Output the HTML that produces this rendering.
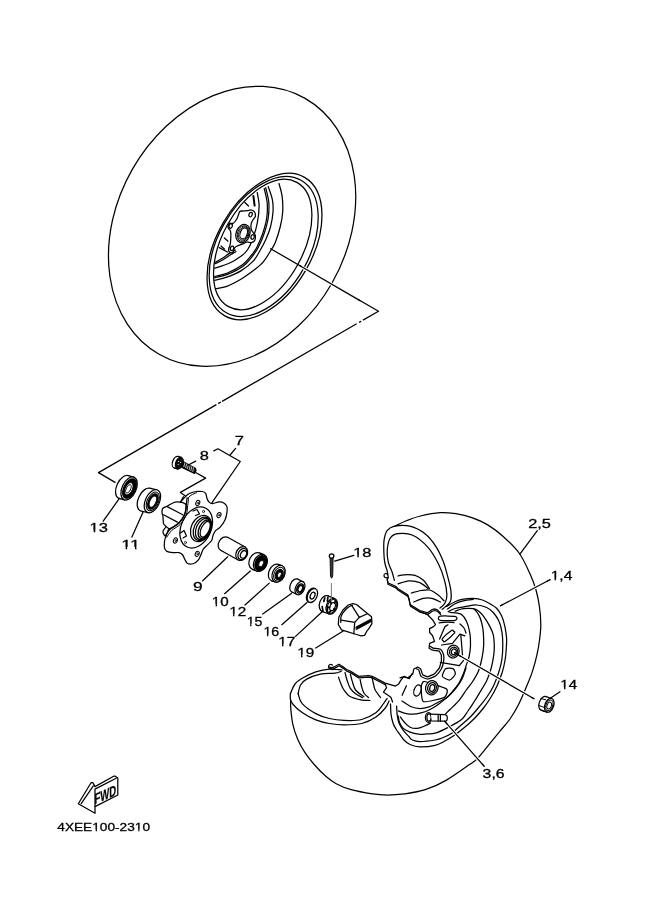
<!DOCTYPE html>
<html><head><meta charset="utf-8">
<style>
html,body{margin:0;padding:0;background:#fff;}
body{width:661px;height:913px;overflow:hidden;}
svg{display:block;}
text{font-family:"Liberation Sans",sans-serif;fill:#000;}
</style></head><body>
<svg width="661" height="913" viewBox="0 0 661 913" style="filter:grayscale(1)">
<rect width="661" height="913" fill="#fff"/>
<g font-size="12.3" stroke="#000" stroke-width="0.3"><text x="234.75" y="445.4" textLength="9.18" lengthAdjust="spacingAndGlyphs">7</text>
<text x="199.89" y="459.7" textLength="9.13" lengthAdjust="spacingAndGlyphs">8</text>
<text x="89.61" y="532.4" textLength="18.42" lengthAdjust="spacingAndGlyphs">13</text>
<text x="121.38" y="548.7" textLength="18.77" lengthAdjust="spacingAndGlyphs">11</text>
<text x="193.09" y="591.4" textLength="9.63" lengthAdjust="spacingAndGlyphs">9</text>
<text x="211.84" y="605.8" textLength="16.85" lengthAdjust="spacingAndGlyphs">10</text>
<text x="229.24" y="615.6" textLength="16.93" lengthAdjust="spacingAndGlyphs">12</text>
<text x="246.65" y="625.6" textLength="15.64" lengthAdjust="spacingAndGlyphs">15</text>
<text x="263.43" y="636.4" textLength="15.79" lengthAdjust="spacingAndGlyphs">16</text>
<text x="278.23" y="645.9" textLength="17.04" lengthAdjust="spacingAndGlyphs">17</text>
<text x="297.23" y="656.5" textLength="16.99" lengthAdjust="spacingAndGlyphs">19</text>
<text x="353.23" y="557.0" textLength="18.18" lengthAdjust="spacingAndGlyphs">18</text>
<text x="528.18" y="528.4" textLength="22.71" lengthAdjust="spacingAndGlyphs">2,5</text>
<text x="550.7" y="580.4" textLength="21.65" lengthAdjust="spacingAndGlyphs">1,4</text>
<text x="560.37" y="689.4" textLength="16.57" lengthAdjust="spacingAndGlyphs">14</text>
<text x="482.6" y="778.0" textLength="22.0" lengthAdjust="spacingAndGlyphs">3,6</text>
<text x="57.29" y="831.2" font-size="11.6" textLength="92.75" lengthAdjust="spacingAndGlyphs">4XEE100-2310</text>
<text x="0" y="0" font-size="15" font-weight="bold" textLength="21.8" lengthAdjust="spacingAndGlyphs" stroke-width="0.2" transform="translate(94.4 804.6) skewY(-24)">FWD</text></g>
<g fill="#fff"><rect x="89.53" y="530.58" width="4.19" height="3.22"/><rect x="95.29" y="530.58" width="3.49" height="3.22"/><rect x="121.30" y="546.88" width="4.27" height="3.22"/><rect x="127.17" y="546.88" width="3.56" height="3.22"/><rect x="130.68" y="546.88" width="4.27" height="3.22"/><rect x="136.56" y="546.88" width="3.56" height="3.22"/><rect x="211.77" y="603.98" width="3.83" height="3.22"/><rect x="217.04" y="603.98" width="3.20" height="3.22"/><rect x="229.17" y="613.78" width="3.85" height="3.22"/><rect x="234.46" y="613.78" width="3.21" height="3.22"/><rect x="246.58" y="623.78" width="3.56" height="3.22"/><rect x="251.48" y="623.78" width="2.97" height="3.22"/><rect x="263.36" y="634.58" width="3.59" height="3.22"/><rect x="268.30" y="634.58" width="2.99" height="3.22"/><rect x="278.16" y="644.08" width="3.87" height="3.22"/><rect x="283.49" y="644.08" width="3.23" height="3.22"/><rect x="297.16" y="654.68" width="3.86" height="3.22"/><rect x="302.47" y="654.68" width="3.22" height="3.22"/><rect x="353.15" y="555.18" width="4.13" height="3.22"/><rect x="358.84" y="555.18" width="3.45" height="3.22"/><rect x="550.62" y="578.58" width="3.94" height="3.22"/><rect x="556.05" y="578.58" width="3.29" height="3.22"/><rect x="560.30" y="687.58" width="3.77" height="3.22"/><rect x="565.48" y="687.58" width="3.14" height="3.22"/><rect x="92.19" y="829.43" width="3.46" height="3.17"/><rect x="96.95" y="829.43" width="2.88" height="3.17"/><rect x="134.76" y="829.43" width="3.46" height="3.17"/><rect x="139.52" y="829.43" width="2.88" height="3.17"/></g>
<g fill="none" stroke="#000" stroke-width="1.25" stroke-linejoin="round" stroke-linecap="round">
<g id="toptire">
<ellipse cx="232.1" cy="226.3" rx="114.9" ry="147.3" transform="rotate(29.7 232.1 226.3)" fill="#fff"/>
<ellipse cx="264.5" cy="246.5" rx="47.6" ry="79.9" transform="rotate(30.1 264.5 246.5)"/>
<ellipse cx="263.7" cy="246.5" rx="45.6" ry="76" transform="rotate(29.4 263.7 246.5)"/>
<ellipse cx="262.7" cy="244.5" rx="40.4" ry="70.9" transform="rotate(28.8 262.7 244.5)"/>
<path d="M279 183.5C279.5 185.6 281.5 191.4 282.1 196.2C282.7 200.9 283 206.9 282.7 212C282.4 217.1 281.5 221.5 280.3 226.5C279.1 231.5 277 238.1 275.4 242.2C273.8 246.3 272.6 247.7 270.5 251C268.4 254.3 266 258.8 263.1 262.1C260.2 265.4 257 267.8 253.4 270.6C249.8 273.4 245.7 276.4 241.3 279C236.9 281.6 231 284.7 226.8 286.3C222.6 287.9 217.7 288.3 215.9 288.7"/>
<path d="M268.2 186.5C268.9 188.7 271.6 195.6 272.4 199.8C273.2 204.1 273.3 207.6 273 212C272.7 216.4 271.8 221.9 270.6 226.5C269.4 231.1 267.6 235.6 265.7 239.8C263.8 244 261.6 248 259.5 251.5C257.4 255 256.4 257.7 253.4 260.9C250.4 264.1 245.7 267.9 241.3 270.6C236.9 273.3 231.2 275.6 226.8 277.2C222.4 278.8 216.7 279.8 214.7 280.3"/>
<path d="M265.7 187.7C266.2 190.1 268.4 197.2 268.8 202.3C269.2 207.4 268.9 213 268.2 218C267.5 223 266.1 227.7 264.5 232.5C262.9 237.3 260.4 243.3 258.5 247C256.6 250.7 255.9 251.7 253.4 254.8C250.9 257.9 247.9 262.5 243.7 265.7C239.5 268.9 232.8 272.2 228 274.2C223.2 276.2 216.9 277.2 214.7 277.8"/>
<path d="M264.2 188.5C264.7 190.9 266.8 197.9 267.2 202.8C267.6 207.8 267.4 213.2 266.7 218.2C266 223.2 264.6 227.8 263 232.6C261.4 237.4 258.8 243.3 257 247C255.2 250.7 254.4 251.5 252 254.5C249.6 257.5 246.6 261.7 242.5 264.8C238.4 267.9 232.1 271.1 227.5 273C222.9 274.9 216.8 275.8 214.7 276.4"/>
<path d="M257.3 192.6C257.6 194.8 259.1 200.9 259.1 205.9C259.1 210.9 258.4 217.2 257.3 222.8C256.2 228.5 254.1 235.3 252.4 239.8C250.8 244.3 249.2 247.3 247.4 250C245.6 252.7 244.3 253.8 241.3 256C238.3 258.2 233.6 261.3 229.2 263.3C224.8 265.3 217.1 267.4 214.7 268.2"/>
<path d="M235.3 250C234.4 250.5 231.8 251.7 229.6 253.1C227.4 254.5 224.5 256.9 222 258.5C219.5 260.1 216 261.8 214.8 262.5"/>
<path d="M236 251.5C235.1 252.1 232.7 253.4 230.5 254.8C228.3 256.2 225.6 258.3 223 259.8C220.4 261.3 216.3 263.1 215 263.8"/>
<path d="M244.9 202.5 L248.5 206"/>
<path d="M241.5 210.8 L245 213.6"/>
<path d="M224.4 238 L228 241.2"/>
<path d="M221 246 L224.6 249.2"/>
<path d="M219.2 247.6 L227.4 252"/>
<path d="M253.4 196 L254.6 205.6" stroke-width="2"/>
<path d="M240 211.3C241.2 210.8 245.8 210.8 247.3 210.6C248.8 210.4 250.3 209.8 251.3 210C252.3 210.2 254.1 211.1 254.6 212C255.1 212.9 255.5 215.6 255.3 216.6C255.1 217.6 253.8 218.4 253.3 219.3C252.8 220.2 251.6 222 251.3 223.3C251 224.6 251 228.1 251.3 229.3C251.6 230.5 252.8 231.8 253.3 232.6C253.8 233.4 255.1 234.2 255.3 235.3C255.5 236.4 255.1 239.6 254.6 240.6C254.1 241.6 252.3 242.4 251.3 242.6C250.3 242.8 248.3 241.9 247.3 242C246.3 242.1 244.9 243 244 243.3C243.1 243.6 241.5 244.2 240.6 244.6C239.7 245 238.1 245.5 237.3 246C236.5 246.5 235.2 247.1 234.6 248C234 248.9 233.3 252.1 232.6 252.6C231.9 253.1 229.8 252.5 229.3 252C228.8 251.5 228.6 249.5 228.7 248.6C228.8 247.7 229.7 246.4 230 245.3C230.3 244.2 230.6 241.8 230.7 240C230.8 238.2 230.9 233.4 230.7 232C230.5 230.6 229.7 229.9 229.3 229.3C228.9 228.7 228 228.1 228 227.3C228 226.5 228.6 223.8 229.3 223.3C230 222.8 232.3 223.8 233.3 223.3C234.3 222.8 235.9 220.5 236.6 219.3C237.3 218.1 238.1 215.7 238.6 214.6C239.1 213.5 238.8 211.8 240 211.3Z" fill="#fff"/>
<ellipse cx="250.6" cy="214.6" rx="1.6" ry="2.3" transform="rotate(20 250.6 214.6)"/>
<ellipse cx="230.7" cy="226" rx="1.6" ry="2.3" transform="rotate(20 230.7 226)"/>
<ellipse cx="232" cy="248.3" rx="1.6" ry="2.3" transform="rotate(20 232 248.3)"/>
<ellipse cx="252.6" cy="237" rx="1.6" ry="2.3" transform="rotate(20 252.6 237)"/>
<ellipse cx="243" cy="233.6" rx="6.9" ry="9.4" transform="rotate(20 243 233.6)" fill="#fff"/>
<ellipse cx="243.2" cy="233.6" rx="5.6" ry="8.1" transform="rotate(20 243.2 233.6)" stroke-width="0.9"/>
<ellipse cx="243.4" cy="233.5" rx="4.6" ry="7" transform="rotate(20 243.4 233.5)" stroke-width="0.8"/>
<ellipse cx="243.7" cy="233.4" rx="3.5" ry="5.7" transform="rotate(20 243.7 233.4)" fill="#fff" stroke-width="1.2"/>
</g>
<path d="M270.6 248.7 L378.5 311.2"/>
<path d="M378.50 311.20L362.99 320.14M361.20 321.17L359.09 322.39M356.67 323.78L222.12 401.34M220.91 402.04L218.22 403.59M216.40 404.64L98.50 472.60L115.5 482.6" stroke-linecap="butt"/>
<path d="M213.8 450.9 L217.9 448.8 L240.3 461.5 L212 502.6"/>
<path d="M230.1 455 L235.6 448.4"/>
<path d="M182 461 L195.4 468.4 L196 470.5 L194.6 473.4 L181.5 467.2Z" fill="#111"/>
<path d="M184.8 462.9 L183.9 466.7" stroke="#fff" stroke-width="0.7"/>
<path d="M186.6 463.9 L185.7 467.6" stroke="#fff" stroke-width="0.7"/>
<path d="M188.3 464.8 L187.4 468.6" stroke="#fff" stroke-width="0.7"/>
<path d="M190.1 465.8 L189.2 469.6" stroke="#fff" stroke-width="0.7"/>
<path d="M191.8 466.7 L190.9 470.5" stroke="#fff" stroke-width="0.7"/>
<path d="M193.6 467.7 L192.7 471.4" stroke="#fff" stroke-width="0.7"/>
<ellipse cx="176.2" cy="462.2" rx="3.6" ry="6.1" transform="rotate(20 176.2 462.2)" fill="#fff"/>
<path d="M178.2 456.4L181.3 457.4L177.3 469L174.2 468Z" fill="#fff" stroke="none"/>
<path d="M178.2 456.4L181.3 457.4M174.2 468L177.3 469"/>
<ellipse cx="179.3" cy="463.2" rx="3.6" ry="6.1" transform="rotate(20 179.3 463.2)" fill="#fff"/>
<ellipse cx="179.4" cy="463.2" rx="3.1" ry="5.3" transform="rotate(20 179.4 463.2)" fill="#111"/>
<ellipse cx="178.6" cy="461.5" rx="0.6" ry="0.6" fill="#fff" stroke="none"/>
<ellipse cx="178.2" cy="464.5" rx="0.6" ry="0.6" fill="#fff" stroke="none"/>
<ellipse cx="180.6" cy="462.5" rx="0.6" ry="0.6" fill="#fff" stroke="none"/>
<path d="M187.9 465.2 L195.7 461.1"/>
<path d="M196.1 472.7 L205.6 478.1 L180.4 492.4 L185.2 495.8"/>
<ellipse cx="123.7" cy="487" rx="7" ry="12.3" transform="rotate(25 123.7 487)" fill="#fff"/>
<path d="M128.3 475.6L133.7 477.1L124.5 499.9L119.1 498.4Z" fill="#fff" stroke="none"/>
<path d="M128.3 475.6L133.7 477.1M119.1 498.4L124.5 499.9"/>
<ellipse cx="129.1" cy="488.5" rx="7" ry="12.3" transform="rotate(25 129.1 488.5)" fill="#fff"/>
<ellipse cx="129.5" cy="488.6" rx="5.8" ry="10.4" transform="rotate(25 129.5 488.6)" fill="#000"/>
<ellipse cx="128.8" cy="488.8" rx="3.6" ry="6.6" transform="rotate(25 128.8 488.8)" fill="#fff" stroke-width="0.9"/>
<ellipse cx="128.4" cy="488.9" rx="2.2" ry="4.6" transform="rotate(25 128.4 488.9)" stroke-width="0.8"/>
<path d="M103.2 521.2 L119.2 498.7"/>
<ellipse cx="145.4" cy="499.6" rx="7" ry="12.3" transform="rotate(25 145.4 499.6)" fill="#fff"/>
<path d="M149.8 488.2L156.8 489.8L148 512.6L141 511Z" fill="#fff" stroke="none"/>
<path d="M149.8 488.2L156.8 489.8M141 511L148 512.6"/>
<ellipse cx="152.4" cy="501.2" rx="7" ry="12.3" transform="rotate(25 152.4 501.2)" fill="#fff"/>
<ellipse cx="152.8" cy="501.4" rx="5.6" ry="10" transform="rotate(25 152.8 501.4)" stroke-width="1"/>
<ellipse cx="152.9" cy="501.5" rx="4.4" ry="8.2" transform="rotate(25 152.9 501.5)" fill="#000"/>
<ellipse cx="152.9" cy="501.6" rx="3" ry="6" transform="rotate(25 152.9 501.6)" fill="#fff" stroke-width="0.9"/>
<path d="M131.9 537.1 L143.3 511.6"/>
<path d="M186.3 495.7C187.5 494.6 188.8 493.8 189.9 493.3C191 492.8 194.6 491.7 196 491.5C197.4 491.3 200.9 491.3 202 491.5C203.1 491.7 205.1 492.5 205.7 493.3C206.3 494.1 206.5 497.1 206.9 498.2C207.3 499.3 208.6 501.8 209.3 502.4C210 503 211.8 503.7 212.9 503.6C214 503.5 217.7 501.9 219 501.8C220.3 501.7 222.9 502.4 223.8 503C224.7 503.6 226.5 505.5 226.9 506.6C227.3 507.7 227.1 511.1 226.9 512.7C226.7 514.3 225.8 518.2 225 519.9C224.2 521.6 221.3 525.9 220.2 527.2C219.1 528.5 216.3 529.8 215.4 530.8C214.5 531.8 213.3 534.6 212.9 535.7C212.5 536.8 212.4 539.4 211.7 540.5C211 541.6 207.9 544.4 206.9 545.4C205.9 546.4 204 547.9 203.3 549C202.6 550.1 201.4 553.7 200.8 555C200.2 556.3 199.2 558.9 198.4 559.9C197.6 560.9 194.9 563.1 193.6 563.5C192.3 563.9 188.5 563.9 187.5 563.5C186.5 563.1 185.7 560.9 185.1 559.9C184.5 558.9 183.4 555.9 182.7 555C182 554.1 180.1 552.9 179 552.6C177.9 552.3 174.4 552.7 173 552.6C171.6 552.5 167.9 552 166.9 551.4C165.9 550.8 164.8 548.9 164.5 547.8C164.2 546.7 164.4 543 164.5 541.7C164.6 540.4 165.3 538 165.7 536.9C166 535.8 166.8 533.7 167.5 532C168.2 530.3 171 524.3 172 522C173 519.7 175.1 514.2 176 512C176.9 509.8 178.8 504.9 180 503C181.2 501.1 185.1 496.8 186.3 495.7Z" fill="#fff"/>
<path d="M186.2 505C186 503.5 183.8 503.2 183 502.8C182.2 502.4 181.5 502.2 180.4 502.1C179.3 502 176.4 501.8 175 502.1C173.6 502.4 171.2 503.9 170.1 504.5C169 505.1 168.1 505.8 167.1 506.3C166.1 506.8 163.6 507.5 162.9 508.2C162.2 508.9 162.1 510.4 162 511.2C161.9 512 162.2 513.6 162.3 514.2C162.4 514.8 162.7 514.8 162.9 516C163.1 517.2 163.1 521.9 163.5 523.3C163.9 524.7 165.1 525.6 165.9 526.3C166.7 527 168.4 528.7 169.5 528.7C170.6 528.7 172.7 527.4 174 526.6C175.3 525.8 177.8 524.4 179.2 522.7C180.6 521 183.8 516.6 184.7 514.2C185.6 511.8 186.4 506.5 186.2 505Z" fill="#fff"/>
<path d="M165.3 536C166.1 534.9 167.8 531.5 170.1 529.3C172.4 527.1 176.8 525.2 179.2 522.7C181.6 520.2 183.5 517.2 184.7 514.2C185.9 511.3 185.8 507.7 186.2 505C186.6 502.3 186.9 499.1 187.1 497.9"/>
<path d="M166.8 537.2C167.6 536.1 169.3 532.8 171.6 530.6C173.9 528.4 178.3 526.5 180.7 523.9C183.1 521.3 185 518 186.2 515C187.4 511.9 187.3 508.3 187.7 505.6C188.1 502.9 188.4 499.8 188.6 498.6" stroke-width="1"/>
<path d="M180.4 502.1 L183.4 496.7"/>
<path d="M187.6 498.6C188.2 498 189.5 496.2 191 495.2C192.5 494.2 195.6 493.2 196.5 492.8" stroke-width="1"/>
<path d="M167.1 506.6 L182.8 514.8"/>
<path d="M163.5 514.8 L177.4 522.1"/>
<path d="M166 527C165.5 527.7 163.3 529.8 163 531.1C162.7 532.4 163.6 534 164.1 534.8C164.6 535.6 165.6 535.8 165.9 536"/>
<ellipse cx="196.2" cy="527.5" rx="15" ry="21.5" transform="rotate(25 196.2 527.5)"/>
<path d="M193 511 L197 509.5 L199.5 514 L195.5 515.5"/>
<path d="M180.5 533 L184 530.5 L186.5 536 L183 538"/>
<ellipse cx="201" cy="528.5" rx="9.8" ry="13.8" transform="rotate(25 201 528.5)" fill="#fff"/>
<ellipse cx="202.3" cy="528.8" rx="8.2" ry="12.4" transform="rotate(25 202.3 528.8)"/>
<ellipse cx="203.3" cy="529" rx="7" ry="11.2" transform="rotate(25 203.3 529)"/>
<ellipse cx="204.5" cy="529.2" rx="5.4" ry="9.8" transform="rotate(25 204.5 529.2)" stroke-width="1.4"/>
<ellipse cx="205.2" cy="529.3" rx="4" ry="8.4" transform="rotate(25 205.2 529.3)"/>
<ellipse cx="197.8" cy="503" rx="1.9" ry="2.7" transform="rotate(25 197.8 503)" stroke-width="1"/>
<ellipse cx="198.1" cy="503" rx="0.7" ry="1.1" transform="rotate(25 198.1 503)" stroke-width="0.7"/>
<ellipse cx="219" cy="515.1" rx="1.9" ry="2.7" transform="rotate(25 219 515.1)" stroke-width="1"/>
<ellipse cx="219.3" cy="515.1" rx="0.7" ry="1.1" transform="rotate(25 219.3 515.1)" stroke-width="0.7"/>
<ellipse cx="175.4" cy="540.5" rx="1.9" ry="2.7" transform="rotate(25 175.4 540.5)" stroke-width="1"/>
<ellipse cx="175.7" cy="540.5" rx="0.7" ry="1.1" transform="rotate(25 175.7 540.5)" stroke-width="0.7"/>
<ellipse cx="197.2" cy="553.8" rx="1.9" ry="2.7" transform="rotate(25 197.2 553.8)" stroke-width="1"/>
<ellipse cx="197.5" cy="553.8" rx="0.7" ry="1.1" transform="rotate(25 197.5 553.8)" stroke-width="0.7"/>
<ellipse cx="203.5" cy="511.5" rx="1" ry="1.2" stroke-width="0.8"/>
<ellipse cx="185.5" cy="542.5" rx="1" ry="1.2" stroke-width="0.8"/>
<ellipse cx="224.1" cy="543.8" rx="5.5" ry="7.3" transform="rotate(28 224.1 543.8)" fill="#fff"/>
<path d="M227.6 537.3L245.2 547L238.2 560L220.6 550.3Z" fill="#fff" stroke="none"/>
<path d="M227.6 537.3L245.2 547M220.6 550.3L238.2 560"/>
<ellipse cx="241.7" cy="553.5" rx="5.5" ry="7.3" transform="rotate(28 241.7 553.5)" fill="#fff"/>
<ellipse cx="242.6" cy="554" rx="4.3" ry="6" transform="rotate(28 242.6 554)"/>
<ellipse cx="243.5" cy="554.4" rx="2.8" ry="4" transform="rotate(28 243.5 554.4)"/>
<path d="M202.7 580.8 L227.7 556.8"/>
<ellipse cx="255.9" cy="561.1" rx="6.5" ry="8.9" transform="rotate(25 255.9 561.1)" fill="#fff"/>
<path d="M259.4 552.9L263.9 554.7L256.9 571.1L252.4 569.3Z" fill="#fff" stroke="none"/>
<path d="M259.4 552.9L263.9 554.7M252.4 569.3L256.9 571.1"/>
<ellipse cx="260.4" cy="562.9" rx="6.5" ry="8.9" transform="rotate(25 260.4 562.9)" fill="#fff"/>
<ellipse cx="260.8" cy="563.1" rx="5.4" ry="7.7" transform="rotate(25 260.8 563.1)" fill="#000"/>
<ellipse cx="261.2" cy="563.6" rx="2.2" ry="3.3" transform="rotate(25 261.2 563.6)" fill="#fff" stroke-width="0.8"/>
<path d="M224.6 593.7 L250.3 571"/>
<ellipse cx="275" cy="572.6" rx="6.1" ry="8.9" transform="rotate(25 275 572.6)" fill="#fff"/>
<path d="M278.3 564.4L281.9 565.6L275.3 582L271.7 580.8Z" fill="#fff" stroke="none"/>
<path d="M278.3 564.4L281.9 565.6M271.7 580.8L275.3 582"/>
<ellipse cx="278.6" cy="573.8" rx="6.1" ry="8.9" transform="rotate(25 278.6 573.8)" fill="#fff"/>
<ellipse cx="279" cy="574.2" rx="4.9" ry="7.3" transform="rotate(25 279 574.2)" stroke-width="1"/>
<ellipse cx="279.2" cy="574.6" rx="3.6" ry="5.4" transform="rotate(25 279.2 574.6)" fill="#000"/>
<ellipse cx="279.4" cy="574.8" rx="1.8" ry="2.8" transform="rotate(25 279.4 574.8)" fill="#fff" stroke-width="0.8"/>
<path d="M245 605 L269.3 583.1"/>
<ellipse cx="294.7" cy="585.5" rx="4.4" ry="7.1" transform="rotate(25 294.7 585.5)" fill="#fff"/>
<path d="M297.7 579.1L303 581.7L297 594.5L291.7 591.9Z" fill="#fff" stroke="none"/>
<path d="M297.7 579.1L303 581.7M291.7 591.9L297 594.5"/>
<ellipse cx="300" cy="588.1" rx="4.4" ry="7.1" transform="rotate(25 300 588.1)" fill="#fff"/>
<ellipse cx="300.2" cy="588.5" rx="3.2" ry="4.9" transform="rotate(25 300.2 588.5)" stroke-width="1.3"/>
<ellipse cx="300.3" cy="588.6" rx="2.2" ry="3.4" transform="rotate(25 300.3 588.6)" stroke-width="1.5"/>
<path d="M262.7 614.1 L291.4 593.6"/>
<ellipse cx="311.6" cy="595.2" rx="4.6" ry="7.4" transform="rotate(25 311.6 595.2)" fill="#fff"/>
<ellipse cx="312.4" cy="595.5" rx="4.6" ry="7.4" transform="rotate(25 312.4 595.5)" fill="#fff"/>
<ellipse cx="312.6" cy="595.6" rx="2.2" ry="3.6" transform="rotate(25 312.6 595.6)"/>
<path d="M281.8 624.7 L307 602.5"/>
<ellipse cx="325" cy="603.6" rx="5.4" ry="8.2" transform="rotate(20 325 603.6)" fill="#fff"/>
<path d="M327.9 595.9L334.7 598.6L328.9 614L322.1 611.3Z" fill="#fff" stroke="none"/>
<path d="M327.9 595.9L334.7 598.6M322.1 611.3L328.9 614"/>
<ellipse cx="331.8" cy="606.3" rx="5.4" ry="8.2" transform="rotate(20 331.8 606.3)" fill="#fff"/>
<ellipse cx="332" cy="606.4" rx="4.4" ry="7.1" transform="rotate(20 332 606.4)" stroke-width="1.1"/>
<ellipse cx="332.6" cy="606.7" rx="2.5" ry="4.3" transform="rotate(20 332.6 606.7)" stroke-width="1.1"/>
<path d="M334.1 608.8 L335.1 610.1" stroke-width="1.8"/>
<path d="M330.6 610.6 L329.4 612.9" stroke-width="1.8"/>
<path d="M329.5 607.1 L327.5 607.3" stroke-width="1.8"/>
<path d="M331.2 603.5 L330.2 601.5" stroke-width="1.8"/>
<path d="M334.5 603 L335.7 600.8" stroke-width="1.8"/>
<path d="M324.8 597.8 L323.8 601.5 M322.2 606.5 L322.8 610.3 M327.9 597.5 L327.4 601.2 M327 611.6 L327.6 608.2" stroke-width="1.7"/>
<path d="M295.5 636.4 L323 611"/>
<path d="M330.1 558 L330.5 576 L331.6 578.3 L332.7 576 L333.1 558 Z" fill="#3a3a3a" stroke-width="0.9"/>
<ellipse cx="331.6" cy="556" rx="2.3" ry="2.2" fill="#fff"/>
<path d="M331.4 583.4 L331.4 601" stroke="#777" stroke-width="1"/>
<path d="M334.7 561.2 L353.8 555.3"/>
<path d="M341.5 629.9 L338.3 624.5 L338.8 617.2 L342.9 610 L348.3 605 L352.9 603.6 L356.5 604.5 L367.4 613.6 L371.5 616.8 L371.9 623.6 L369.2 628.1 L366.5 631.7 L364.6 635.4 L361 635.8 L356.5 634.5 L344.7 630.8Z" fill="#fff"/>
<path d="M340.8 622.5C340.9 621.4 340.5 618 341.2 616C341.9 614 343.4 612.1 344.8 610.5C346.2 608.9 348.2 607.3 349.5 606.5C350.8 605.7 352 605.8 352.5 605.6"/>
<path d="M352.3 606.3 L359.3 617.4 L367.4 613.8"/>
<path d="M359.3 617.4 L354.7 622.4 L341.2 620.2"/>
<path d="M354.7 622.4 L353.8 633.8"/>
<path d="M356 626.8 L371.6 618.6 L371.8 621.4 L356.4 629.8Z" fill="#000" stroke-width="0.6"/>
<path d="M315.7 648 L343.2 631"/>
<path d="M394.7 526.2C396.8 525.2 402.7 522.2 407 520.5C411.3 518.8 414.9 517.3 420.4 516C425.9 514.7 434.1 513 440 512.6C445.9 512.2 450.6 512.9 455.9 513.7C461.2 514.6 466.5 515.8 471.8 517.7C477.1 519.6 482.4 521.7 487.7 524.9C493 528.1 498.2 532 503.5 536.8C508.8 541.6 514.9 547.1 519.4 553.5C523.9 559.9 527.7 568.8 530.5 574.9C533.3 581 534.5 584.6 536 590C537.5 595.4 538.7 601.2 539.5 607C540.3 612.8 540.8 619.5 540.8 625C540.8 630.5 540.1 635 539.5 640C538.9 645 538.2 649.3 537 654.7C535.8 660.1 533.9 667 532.1 672.4C530.3 677.8 528.5 681.8 526.2 687.2C523.9 692.6 521 699.7 518.3 705C515.6 710.3 513 714.6 510 719C506.9 723.4 503 727.4 500 731.1C497 734.8 495.4 736.7 491.8 741.1C488.2 745.5 481.7 753.9 478.1 757.8C474.5 761.6 475.3 760.5 470 764.2C464.7 767.9 453.9 775.9 446.5 780.1C439.1 784.4 432.4 787.4 425.3 789.7C418.2 792 410.6 793 404.2 793.9C397.8 794.8 392.5 795 387.2 795C381.9 795 378.4 794.8 372.4 793.9C366.4 793 357.2 791.4 351.2 789.7C345.2 788 340.3 785.9 336.2 783.7C332.1 781.6 330 779.9 326.4 776.8C322.8 773.7 318.2 769.1 314.6 765C311 760.9 307.5 756.5 304.7 752.2C301.9 747.9 299.8 744 297.8 739.4C295.8 734.8 294 729.5 292.9 724.6C291.8 719.7 291.3 714 290.9 709.9C290.5 705.8 290.7 701.6 290.6 700"/>
<path d="M388.3 577.8C388.1 576.6 387.7 573.2 387.1 570.6C386.5 568 385.2 565.5 384.7 562.1C384.1 558.7 383.9 553.7 383.8 550C383.7 546.3 383.6 543 384.1 539.8C384.7 536.6 385.3 533 387.1 530.7C388.9 528.4 390.9 527 394.7 526.2C398.5 525.5 404.8 525 409.8 526.2C414.9 527.5 420.7 530.4 425 533.7C429.3 537 432.5 541.2 435.5 545.8C438.5 550.3 441.1 556 443.1 561C445.1 566 446.3 571.3 447.6 576.1C448.9 580.9 450.3 585.9 450.8 590C451.3 594.1 451.5 598.2 450.6 601C449.7 603.8 446.6 605.5 445.2 606.9C443.8 608.3 442.7 608.9 442.2 609.3"/>
<path d="M394.4 580.3C394 578.9 393 574.8 392 571.8C391 568.8 389.1 565.7 388.3 562.1C387.5 558.5 386.9 554.4 387.2 550.4C387.5 546.4 388.4 541.1 390.1 538.3C391.9 535.5 393.9 534.2 397.7 533.7C401.5 533.2 407.8 533 412.8 535.3C417.9 537.6 423.7 542.6 428 547.4C432.3 552.2 435.7 558.5 438.5 564C441.3 569.5 443.2 575.4 444.6 580.6C446 585.8 446.8 591.3 446.9 595C447 598.7 446.1 600.8 445 603C443.9 605.2 440.8 607.2 440 608"/>
<path d="M388 578C387.5 577.9 385.7 578 385 577.5C384.3 577 383.9 575.7 384 575C384.1 574.3 384.9 573.6 385.5 573.5C386.1 573.4 387.2 574.3 387.5 574.5"/>
<path d="M398 576C399 575.8 401.2 574.9 404 574.8C406.8 574.7 411.8 574.5 415 575.4C418.2 576.3 421 578.1 423.4 580.3C425.8 582.5 428.5 587.3 429.5 588.7"/>
<path d="M398 583.9C399.8 583.4 405.3 581.1 408.9 580.9C412.5 580.7 416.6 581.4 419.8 582.7C423 584 426.9 587.7 428.3 588.7"/>
<path d="M411.3 593C412.9 592.6 418 591 421 590.5C424 590 426.7 589.3 429.5 590C432.3 590.7 435.5 593 437.9 594.8C440.3 596.6 443 599.8 444 600.8"/>
<path d="M413.7 602C415.3 601.4 420.4 599 423.4 598.4C426.4 597.8 429.1 597.8 431.9 598.4C434.7 599 439 601.4 440.4 602"/>
<path d="M387.1 577.8 L387.7 582.7 L395.6 586.3 L398 588.7 L407.7 594.8 L408.9 598.4 L410.1 604.5 L419.8 610.5 L427.6 612.8 L431.5 609.9 L434.5 608.9 L437.4 609.9 L440.4 612.9"/>
<path d="M387.4 579.4 L388 584.3 L395.9 587.9 L398.3 590.3 L408 596.4 L409.2 600 L410.4 606.1 L420.1 612.1 L427.9 614.4 L431.8 611.5 L434.8 610.5 L437.7 611.5 L440.7 614.5"/>
<path d="M420.7 611.8 L427.6 614.8 L432.5 619.7 L435.5 624.6 L433.5 626.6 L429.6 628.6 L429.6 632.5 L432.5 635.5 L434.5 641.4 L429.6 643.4 L429.1 648.3 L432.5 650.2 L439.4 651.2 L441.4 655.2 L441.4 661.1 L439.4 668 L434.5 673.9 L427.6 676.8 L422.7 674.9 L420.7 669 L417.7 667 L413.8 669 L412.8 673.9 L407.9 677.8 L403 676.8 L400 677.8"/>
<path d="M430.2 646.4C430.5 646.5 432.1 647.8 433.1 648.1C434.1 648.4 439.4 648.6 440.5 649.3C441.5 650 443.2 653.5 443.6 654.8C443.9 656 443.8 660 443.6 661.4C443.4 662.9 442.1 667.6 441.3 669C440.6 670.5 437.2 674.7 435.8 675.7C434.5 676.7 429.3 678.9 427.8 679C426.3 679.1 421.9 677.2 421.1 676.4C420.2 675.5 419.3 670.9 418.8 670.2C418.4 669.4 416.7 669 416.5 668.8"/>
<path d="M329 666.8 L332.1 668 L338.9 664.2 L342.7 666.5 L346.5 669.5 L350.3 671 L358.6 676.3 L368.4 675.6 L372.2 676.3 L385.1 683.1 L395.6 686.1 L398.7 683.9 L400.9 680.1 L404 676.3 L409.3 678.6 L412.3 673.3"/>
<path d="M329.2 668.4 L332.3 669.6 L339.1 665.8 L342.9 668.1 L346.7 671.1 L350.5 672.6 L358.8 677.9 L368.6 677.2 L372.4 677.9 L385.3 684.7"/>
<path d="M385.1 683.9 L386.6 687.7 L383.5 692.2 L388.1 695.2 L391 697.5 L392.6 702"/>
<path d="M333 667C332.5 667.2 330.8 668.6 330 668.5C329.2 668.4 328.5 667.2 328.5 666.5C328.5 665.8 329.3 664.8 330 664.5C330.7 664.2 332.1 664.9 332.5 665"/>
<path d="M290.4 693.6C291.2 692 293 686.6 295 684C297 681.4 298.7 680.2 302.2 678.2C305.7 676.2 311.3 673.3 315.8 671.8C320.3 670.3 325 669.4 329.4 669.1C333.8 668.8 340 669.9 342.1 670"/>
<path d="M290.4 693.6C290.5 695 289.3 698.6 291.3 701.8C293.3 705 298.1 709.6 302.2 712.6C306.3 715.6 311.3 718.1 315.8 719.9C320.3 721.7 324.7 722.7 329.4 723.5C334.1 724.3 338.6 724.9 344 724.9C349.4 724.9 356.4 724.8 361.7 723.5C367 722.2 372.1 719.6 376 717C379.9 714.4 383.1 710.7 385.3 708C387.5 705.3 388.4 702.2 389 701"/>
<path d="M298.1 693.6C298.5 692.2 299.1 687.4 300.5 685C301.9 682.6 303.4 680.9 306.7 679.1C310 677.3 315.6 675.1 320.3 674.1C325 673.1 331.3 673.7 334.8 673.2C338.3 672.7 340.1 671.6 341.2 671.3"/>
<path d="M298.1 693.6C298.8 695.3 299.2 700.3 302.2 703.6C305.1 706.9 311.3 711.1 315.8 713.6C320.3 716.1 324.7 717.4 329.4 718.5C334.1 719.6 338.6 720.2 344 720.4C349.4 720.6 356.3 720.8 361.7 719.5C367.1 718.2 372.6 715.1 376.2 712.5C379.8 709.9 381.7 705.9 383.5 703.6C385.3 701.3 386.5 699.4 387.1 698.5"/>
<path d="M338.5 677.2C338.9 678.3 340.1 681.9 341 684C341.9 686.1 342.5 687.9 344 690C345.5 692.1 347.2 694.9 350 696.5C352.8 698.1 357.5 699.1 360.8 699.8C364.1 700.5 368.4 700.4 369.9 700.5"/>
<path d="M345 672.5C345.3 673.8 346.1 677.4 347 680C347.9 682.6 348.8 686.1 350.3 688.4C351.8 690.7 354 692.5 356 694C358 695.5 361.3 696.9 362.4 697.5"/>
<path d="M350.3 674C350.7 675.3 351.6 679.3 352.5 682C353.4 684.7 353.7 687.5 355.6 690C357.5 692.5 362.5 695.6 363.9 696.7"/>
<path d="M360.1 679.3C360.3 680.4 360.9 683.7 361.5 686C362.1 688.3 362.8 691.1 363.9 693C365 694.9 367.6 696.8 368.4 697.5"/>
<path d="M372.2 677.8C372.4 678.8 373 682 373.5 684C374 686 374 687.8 375.2 690C376.4 692.2 379.6 696.2 380.5 697.5"/>
<path d="M446.6 606.5C448 605.7 452.2 602.9 455 601.7C457.8 600.5 460.2 599.8 463.3 599.2C466.4 598.6 470.1 598.2 473.3 598.3C476.5 598.4 479.6 599 482.5 600C485.4 601 488.4 602.8 490.8 604.2C493.2 605.6 494.8 606.4 496.6 608.3C498.4 610.2 500.2 612.8 501.6 615.8C503 618.8 504.1 622.9 504.9 626.6C505.7 630.4 506.4 634.7 506.6 638.3C506.8 641.9 506.6 644.4 506.3 648C506.1 651.6 505.8 655.8 505.1 660C504.4 664.2 503.4 668.7 502 673C500.6 677.3 498.9 681.8 497 686C495.1 690.2 492.8 694.3 490.5 698C488.2 701.7 486.1 704.7 483.5 708C480.9 711.3 478 714.8 474.9 718C471.8 721.2 468.5 724.1 465 727C461.5 729.9 457.5 733.1 454 735.5C450.5 737.9 447.1 739.9 444 741.5C440.9 743.1 439.1 744.4 435.1 745.3C431.1 746.2 424.2 746.9 420 746.8C415.8 746.7 412.7 745.6 410 744.5C407.3 743.4 405.5 741.6 403.9 740C402.3 738.4 401.6 736.9 400.3 735.1C399 733.3 397.2 731 396 729C394.8 727 393.8 725.5 393 723C392.2 720.5 391.4 717.2 391 714C390.6 710.8 390.6 705.7 390.5 704"/>
<path d="M447.5 609C448.8 608.1 452.4 605.2 455 603.8C457.6 602.4 460.2 601.5 463.3 600.8C466.4 600.1 471.6 599.7 473.3 599.5"/>
<path d="M448.2 611.8C449.3 611.2 452.2 609.4 455 608.5C457.8 607.6 461.4 607.2 465 606.6C468.6 606 473 604.9 476.6 605C480.2 605.1 483.8 606.2 486.6 607.5C489.4 608.8 491.2 610.1 493.3 612.5C495.4 614.9 497.7 618.3 499.1 621.6C500.6 624.9 501.4 628.5 502 632.4C502.6 636.3 502.8 640.4 502.8 645C502.8 649.6 502.5 655.3 501.8 660C501.1 664.7 499.9 668.7 498.5 673C497.1 677.3 495.4 682 493.5 686C491.6 690 489.3 693.5 486.9 697C484.5 700.5 481.8 703.6 479 707C476.2 710.4 473.2 714.1 470 717.3C466.8 720.5 463 723.4 460 726C457 728.6 454.8 731.2 451.8 733.2C448.8 735.2 444.8 736.9 442 738C439.2 739.1 438.8 739.4 435.1 740C431.4 740.6 423.8 741.5 420 741.5C416.2 741.5 414.3 740.9 412.4 740C410.5 739.1 410.2 737.9 408.7 736.3C407.2 734.7 404.9 732.5 403.3 730.3C401.7 728.1 400 725.5 399 723C398 720.5 397.6 717.9 397.2 715.1C396.8 712.3 396.7 707.6 396.6 706.1"/>
<path d="M455 611.2C456.4 610.8 460.2 609.1 463.3 608.7C466.4 608.3 470.7 608.2 473.3 608.7C475.9 609.2 477.2 610 479.1 611.6C481.1 613.2 483.2 615.8 485 618.3C486.8 620.8 488.5 623.8 489.9 626.6C491.3 629.4 492.6 631.8 493.3 634.9C494 638 494.2 641.7 494.3 645C494.4 648.3 494.3 651 493.8 654.7C493.3 658.4 492.6 662.8 491.5 667C490.4 671.2 488.9 675.8 487 680C485.1 684.2 482.2 688.4 480 692.1C477.8 695.8 476 698.9 474 702C472 705.1 470.1 708.1 468 711C465.9 713.9 464.8 716.8 461.6 719.5C458.4 722.2 453.1 724.8 448.7 727.1C444.3 729.4 438.7 732.1 435.1 733.2C431.5 734.3 429.7 733.7 426.9 733.9C424.1 734.1 421.2 734.5 418.4 734.2C415.6 733.9 412.5 733.1 410 732.1C407.5 731.1 405.1 730 403.3 728.4C401.6 726.8 400.4 724.5 399.5 722.4C398.6 720.3 398.4 717.1 398.2 716"/>
<path d="M474.1 609.1C474.8 609.9 477.1 611.9 478.3 614.1C479.6 616.3 480.8 619.5 481.6 622.5C482.4 625.5 483 628.6 483.3 632.4C483.6 636.1 483.9 640.7 483.7 645C483.5 649.3 482.9 653.7 482 658C481.1 662.3 480 667.2 478.5 671C477 674.8 475 677.8 473 681C471 684.2 468.6 686.8 466.3 690C464 693.2 461.8 697.1 459.1 700.4C456.4 703.6 452.3 707.2 450 709.5C447.7 711.8 446.2 713.2 445.4 714"/>
<path d="M430.5 723C429.5 723.5 426.7 725.1 424.5 726C422.3 726.9 419.6 728.2 417.2 728.4C414.8 728.6 412 728.1 410 727.2C408 726.3 406.7 724.7 405.1 723C403.5 721.3 401.1 717.9 400.3 716.9"/>
<path d="M440.3 616.2C441.9 615.8 445.2 616 447.6 616C450.1 616 453.4 616 455 616.4C456.6 616.8 457 617.6 457 618.3C457 619 456.6 620 455 620.4C453.4 620.8 450.1 620.6 447.6 620.6C445.2 620.6 441.9 620.8 440.3 620.4C438.8 620 438.3 619 438.3 618.3C438.3 617.6 438.8 616.6 440.3 616.2Z"/>
<path d="M439.1 622.9C440.3 622.8 444 622.3 446.5 622.2C449 622.1 452.8 622.5 454.1 622.5"/>
<path d="M442.6 638.4C444 636.7 449.7 631.8 451.5 630.6C453.3 629.4 453.1 630.9 453.6 631.3C454.1 631.7 455.7 631.5 454.3 633.2C452.9 634.9 447.2 640 445.3 641.3C443.4 642.6 443.6 641.3 443.2 640.8C442.8 640.3 441.2 640.1 442.6 638.4Z"/>
<path d="M439.6 639.1 L445 626.6 L448 624.8"/>
<path d="M441.6 645 L452.5 643.3 L459.9 634.1 L464.9 635.8"/>
<path d="M460.8 635 L462.5 655"/>
<path d="M450 612.5C451.8 612.8 458 612.6 460.8 614.1C463.6 615.6 465.1 618.4 466.6 621.6C468.1 624.8 469.2 629.3 469.9 633.3C470.5 637.3 470.6 641.8 470.5 645.8C470.4 649.8 469.7 653.8 469 657C468.3 660.2 467.2 662.2 466.3 665C465.4 667.8 464.6 670.8 463.3 673.9C462 677 460.5 680.8 458.7 683.7C456.9 686.6 454.5 689.2 452.7 691.3C450.9 693.4 450.5 694.2 448.1 696.4C445.7 698.6 441.4 702.2 438.2 704.5C435 706.8 432.1 708.5 429.1 710C426.1 711.5 422.7 712.5 420 713.2C417.3 713.9 415.5 714.2 413 714.2C410.5 714.2 407.5 713.8 405.1 713.3C402.7 712.8 399.5 711.3 398.4 710.9"/>
<path d="M466 668C465.3 669.8 463.7 675.7 462 679C460.3 682.3 458.5 685 456 688C453.5 691 450 695 447.2 697.3C444.4 699.6 442.1 700.2 439.1 701.8C436.1 703.4 432.3 705.7 429.1 706.8C425.9 707.9 423.1 708.6 420 708.6C416.9 708.6 413.6 707.8 410.6 706.5C407.6 705.2 403.4 701.9 402 701"/>
<path d="M460 624C460.7 624.7 463 626.5 464 628C465 629.5 465.7 632.2 466 633"/>
<ellipse cx="453.3" cy="651.6" rx="5.8" ry="6.5" transform="rotate(20 453.3 651.6)" fill="#fff"/>
<ellipse cx="453.6" cy="651.7" rx="4" ry="4.6" transform="rotate(20 453.6 651.7)"/>
<ellipse cx="453.8" cy="651.8" rx="2.4" ry="2.9" transform="rotate(20 453.8 651.8)"/>
<path d="M445.6 668.8C446.8 667.9 451.9 668 453 668.6C454.1 669.2 455.7 672.8 455.3 674.1C454.9 675.4 451.3 679.7 449.8 680C448.3 680.3 442.9 677.7 442.4 676.4C441.9 675.1 444.4 669.7 445.6 668.8Z"/>
<path d="M440.3 662.4 L459.3 665.6 L463.6 660.3"/>
<path d="M424.4 681.5C426.5 681.7 444.9 687.6 446.6 688.9C448.3 690.2 446.4 696.3 444.5 697.4C442.6 698.5 425.2 702.5 423.3 701.6C421.4 700.7 421.1 688.5 421.2 686.8C421.3 685.1 422.3 681.3 424.4 681.5Z"/>
<ellipse cx="431.8" cy="687.8" rx="6.2" ry="7.2" transform="rotate(15 431.8 687.8)" fill="#fff"/>
<ellipse cx="432" cy="687.9" rx="4.3" ry="5.4" transform="rotate(15 432 687.9)"/>
<ellipse cx="432.2" cy="688" rx="2.4" ry="3.5" transform="rotate(15 432.2 688)"/>
<ellipse cx="417.5" cy="690.5" rx="3.4" ry="5.8" transform="rotate(20 417.5 690.5)"/>
<path d="M406.4 685.7 L402.1 695.3"/>
<ellipse cx="428.6" cy="717.5" rx="3.2" ry="5" fill="#fff"/>
<ellipse cx="429" cy="717.5" rx="2.1" ry="3.6"/>
<path d="M430.8 714.2 L444.5 714.6 A2.8 3.3 0 0 1 444.5 721.2 L431.8 721" fill="#fff"/>
<path d="M438.2 714.4 L438.2 721.1 M440.4 714.5 L440.4 721.1"/>
<path d="M519.9 554.2 L537.3 530.7"/>
<path d="M549.9 579.7 L500.5 605.8"/>
<path d="M534 698.7 L454.5 652.7"/>
<path d="M550.7 698.1 L560 691.8"/>
<path d="M444.8 721.4 L484.1 766.2"/>
<ellipse cx="543.6" cy="703.4" rx="4.4" ry="7.2" transform="rotate(20 543.6 703.4)" fill="#fff"/>
<path d="M546 696.6L551.7 698.5L546.9 712.1L541.2 710.2Z" fill="#fff" stroke="none"/>
<path d="M546 696.6L551.7 698.5M541.2 710.2L546.9 712.1"/>
<ellipse cx="549.3" cy="705.3" rx="4.4" ry="7.2" transform="rotate(20 549.3 705.3)" fill="#fff"/>
<ellipse cx="549.3" cy="705.4" rx="3.3" ry="5.6" transform="rotate(20 549.3 705.4)" stroke-width="1"/>
<ellipse cx="549.2" cy="705.6" rx="2.1" ry="3.6" transform="rotate(20 549.2 705.6)" stroke-width="1"/>
<path d="M541 698.5 L545.8 699.8 M539.2 705.5 L543.8 707.3 M542.5 711 L547 711.8" stroke-width="1"/>
<path d="M78.3 803.7 L91.2 782.5 L92.8 782.6 L95 786.6 L113.7 776.2 L115.3 776.2 L117.8 777.9 L117.8 795 L95 806.6 L95 813.3Z"/>
<path d="M 81.2 803.7 L 93.3 785.8 M 95 789.1 L 116.2 778.3 M 95 789.1 L 95 806.6"/>
<path d="M301.7 266.8 L358.3 299.6" stroke="#fff" stroke-width="3.2" stroke-linecap="butt"/>
<path d="M300 265.8 L360 300.6"/>
<path d="M546.4 581.6 L503.2 604.4" stroke="#fff" stroke-width="3.2" stroke-linecap="butt"/>
<path d="M549.9 579.7 L500.5 605.8"/>
<path d="M531.4 697.2 L461.4 656.7" stroke="#fff" stroke-width="3.2" stroke-linecap="butt"/>
<path d="M534 698.7 L454.5 652.7"/>
<path d="M447.4 724.4 L482.1 763.9" stroke="#fff" stroke-width="3.2" stroke-linecap="butt"/>
<path d="M444.8 721.4 L484.1 766.2"/>
</g>
</svg>
</body></html>
